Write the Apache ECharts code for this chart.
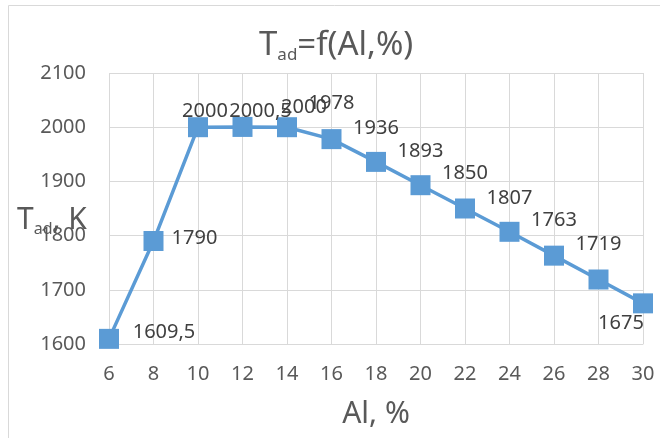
<!DOCTYPE html>
<html>
<head>
<meta charset="utf-8">
<script src="https://cdn.jsdelivr.net/npm/echarts@6/dist/echarts.min.js"></script>
<style>
  html, body { margin: 0; padding: 0; background: #fff; }
  #chart { width: 660px; height: 438px; }
</style>
</head>
<body>
<div id="chart"></div>
<script>
// Al content, %
var alPercent = [6, 8, 10, 12, 14, 16, 18, 20, 22, 24, 26, 28, 30]
// adiabatic temperature, K
var tAd = [1609.5, 1790, 2000, 2000.5, 2000, 1978, 1936, 1893, 1850, 1807, 1763, 1719, 1675]

var font = 'Noto Sans'
var blue = '#5b9bd5'
var grey = '#595959'

// where excel had the data labels (offset from marker centre)
var labelShift = [
  [55, -7], [41, -3], [7, -16], [18, -16], [17, -20], [0, -36], [0, -34],
  [0, -34], [0, -35], [0, -34], [0, -35], [0, -35], [-22, 20]
]

var chart = echarts.init(document.getElementById('chart'))

var points = alPercent.map(function (x, i) {
  return {
    value: [x, tAd[i]],
    label: { offset: labelShift[i] }
  }
})

chart.setOption({
  animation: false,
  title: {
    text: '{m|T}{s|ad}{m|=f(Al,%)}',
    left: 259,
    top: 28,
    padding: 0,
    textStyle: {
      rich: {
        m: { fontFamily: font, fontSize: 33, fontWeight: 'normal', color: grey, lineHeight: 36 },
        s: { fontFamily: font, fontSize: 17, fontWeight: 'normal', color: grey, lineHeight: 27, verticalAlign: 'bottom' }
      }
    }
  },
  graphic: [
    {
      type: 'rect',
      shape: { x: 8.5, y: 5.5, width: 700, height: 500 },
      style: { fill: 'none', stroke: '#d9d9d9', lineWidth: 1 },
      silent: true
    },
    {
      type: 'text',
      left: 17,
      top: 205,
      style: {
        text: '{m|T}{s|ad}{m|, K}',
        rich: {
          m: { fontFamily: font, fontSize: 30, fill: grey, lineHeight: 34 },
          s: { fontFamily: font, fontSize: 16, fill: grey, lineHeight: 25, verticalAlign: 'bottom' }
        }
      }
    }
  ],
  grid: {
    left: 109,
    right: 17,
    top: 73,
    bottom: 94
  },
  xAxis: {
    type: 'value',
    min: 6,
    max: 30,
    interval: 2,
    name: 'Al, %',
    nameLocation: 'middle',
    nameGap: 55,
    nameTextStyle: { fontFamily: font, fontSize: 30, color: grey },
    axisLine: { lineStyle: { color: '#d9d9d9', width: 1 } },
    axisTick: { show: false },
    axisLabel: { fontFamily: font, fontSize: 20, color: grey, margin: 20 },
    splitLine: { lineStyle: { color: '#d9d9d9', width: 1 } }
  },
  yAxis: {
    type: 'value',
    min: 1600,
    max: 2100,
    interval: 100,
    axisLine: { show: false },
    axisTick: { show: false },
    axisLabel: {
      fontFamily: font,
      fontSize: 20,
      color: grey,
      margin: 23,
      formatter: function (v) { return String(v) }
    },
    splitLine: { lineStyle: { color: '#d9d9d9', width: 1 } }
  },
  series: [{
    type: 'line',
    data: points,
    symbol: 'rect',
    symbolSize: 20,
    itemStyle: { color: blue },
    lineStyle: { color: blue, width: 3.5 },
    clip: false,
    label: {
      show: true,
      position: 'inside',
      fontFamily: font,
      fontSize: 20,
      color: '#404040',
      formatter: function (p) {
        return String(p.value[1]).replace('.', ',')
      }
    }
  }]
})
</script>
</body>
</html>
